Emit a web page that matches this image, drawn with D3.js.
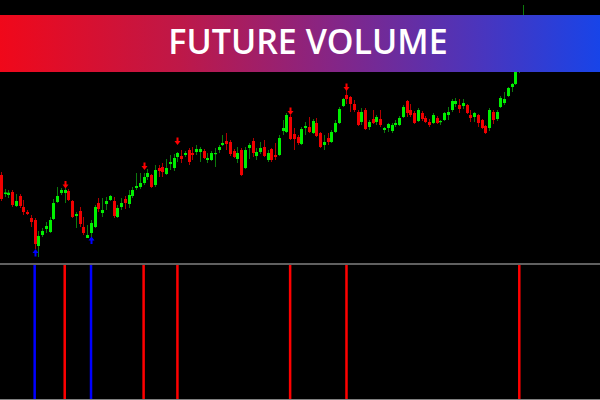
<!DOCTYPE html>
<html><head><meta charset="utf-8">
<script src="https://cdn.jsdelivr.net/npm/d3@7"></script>
<style>html,body{margin:0;padding:0;background:#000;overflow:hidden}svg{display:block}</style>
</head><body>
<script>
// Candle data (price points, index 0..139)
const openV  = [125,106,105,108,94,104,93,88,82,80,54,65,71,68,81,98,107,107,109,99,84,89,73,62,67,73,97,87,96,100,99,83,93,101,96,104,112,113,117,123,125,115,132,133,126,136,132,143,144,145,150,147,148,148,149,140,140,146,150,155,159,158,149,141,150,132,152,159,144,148,153,140,151,145,145,169,168,183,166,163,156,172,173,167,177,167,155,162,158,168,177,194,205,203,196,188,178,190,173,181,178,181,170,172,169,175,175,183,199,190,187,179,187,182,178,177,182,178,180,185,190,196,195,194,195,185,183,185,180,174,172,188,181,193,197,204,213,216,240,250];
const highV  = [128,111,110,110,106,106,100,90,85,82,69,72,78,83,101,113,112,112,111,100,88,93,83,75,80,95,102,102,103,105,103,95,102,104,110,113,127,127,127,131,126,135,135,137,141,145,146,148,150,149,152,153,155,153,151,147,149,152,155,165,167,160,151,153,152,153,157,162,152,158,160,150,152,157,165,180,187,185,172,165,173,178,183,181,182,168,165,167,170,180,193,202,210,204,200,190,192,192,180,190,185,190,173,177,177,180,184,195,200,196,189,192,189,184,181,187,184,180,188,193,201,202,201,201,196,190,188,186,181,175,192,190,190,204,208,213,217,242,265,295];
const lowV   = [99,103,102,93,93,92,85,85,73,51,43,63,67,67,80,97,105,97,99,82,72,73,65,62,63,72,88,83,90,99,82,82,90,91,92,102,110,111,115,120,112,113,123,123,125,130,129,138,137,143,135,140,145,138,141,137,139,133,147,154,150,144,142,137,124,131,141,143,140,146,143,138,138,140,144,165,167,160,150,155,155,165,167,166,163,152,150,155,157,167,176,193,196,188,188,174,175,170,170,176,175,173,167,168,167,173,174,182,183,183,176,178,179,177,173,176,176,175,179,180,188,193,187,191,186,178,178,173,171,166,169,176,179,192,195,203,208,215,227,248];
const closeV = [101,107.5,107.3,95,99,94,88,86,78,56,64,69,74,80,97,104,110,110,100,83,86,76,67,65,77,93,91,90,99,104,84,92,97,97,105,110,114,117,123,127,113,130,129,128,132,138,142,147,141,147,138,145,151,151,142,142,147,147,153,157,156,146,143,147,125,150,155,147,148,152,144,147,140,143,162,172,185,161,161,157,171,174,168,179,164,153,158,158,168,177,191,201,201,196,190,175,188,171,178,177,183,175,172,176,175,177,182,193,187,185,177,190,181,178,175,185,177,179,187,188,199,199,191,197,187,182,187,177,172,167,190,180,188,202,201,212,216,240,250,275];

// Signals
const signalIndex = [9, 17, 24, 38, 47, 77, 92, 138];
const signalType  = ["buy","sell","buy","sell","sell","sell","sell","sell"];
const signalPrice = [47.5, 115, 60, 133.5, 158.5, 188.5, 212.5, 272];
const signalVolume = [1, 1, 1, 1, 1, 1, 1, 1];

const titleText = "FUTURE VOLUME";

const W = 600, H = 400;
const svg = d3.select("body").append("svg").attr("width", W).attr("height", H);
svg.append("rect").attr("width", W).attr("height", H).attr("fill", "#000");

const n = openV.length;
const x = d3.scaleLinear().domain([0, n - 1]).range([0.8, 523]);
const y = d3.scaleLinear().domain([0, 300]).range([300, 0]);

const candles = d3.range(n).map(i => ({i, o: openV[i], h: highV[i], l: lowV[i], c: closeV[i]}));

const main = svg.append("g");
// wicks
main.selectAll("line.wick").data(candles).join("line")
  .attr("class", "wick")
  .attr("x1", d => Math.round(x(d.i)) + 0.5).attr("x2", d => Math.round(x(d.i)) + 0.5)
  .attr("y1", d => y(d.h)).attr("y2", d => y(d.l))
  .attr("stroke", d => d.c >= d.o ? "#0c7a0c" : "#b00000")
  .attr("stroke-width", 1);
// bodies
const bw = 3;
main.selectAll("rect.body").data(candles).join("rect")
  .attr("class", "body")
  .attr("x", d => Math.round(x(d.i)) + 0.5 - bw / 2)
  .attr("width", bw)
  .attr("y", d => y(Math.max(d.o, d.c)))
  .attr("height", d => Math.max(1.2, Math.abs(y(d.o) - y(d.c))))
  .attr("fill", d => d.c >= d.o ? "#00f000" : "#f00000");

// signal arrows
const sig = signalIndex.map((idx, k) => ({idx, type: signalType[k], p: signalPrice[k], v: signalVolume[k]}));
function arrowPath(cx, cy, up) {
  const s = up ? -1 : 1;
  return `M${cx - 1},${cy - s * 4} L${cx + 1},${cy - s * 4} L${cx + 1},${cy - s * 0.5} L${cx + 3},${cy - s * 0.5} L${cx},${cy + s * 3.5} L${cx - 3},${cy - s * 0.5} L${cx - 1},${cy - s * 0.5} Z`;
}
main.selectAll("path.arrow").data(sig).join("path")
  .attr("class", "arrow")
  .attr("d", d => arrowPath(Math.round(x(d.idx)) + 0.5, y(d.p), d.type === "buy"))
  .attr("fill", d => d.type === "buy" ? "#0000ff" : "#ff0000");

// lower panel
const yv = d3.scaleLinear().domain([0, 1]).range([399, 265]);
svg.append("line").attr("x1", 0).attr("x2", W).attr("y1", 264).attr("y2", 264)
  .attr("stroke", "#808080").attr("stroke-width", 1.6);
svg.append("line").attr("x1", 0).attr("x2", W).attr("y1", 399.5).attr("y2", 399.5)
  .attr("stroke", "#808080").attr("stroke-width", 1);
svg.append("g").selectAll("rect").data(sig).join("rect")
  .attr("x", d => x(d.idx) - 1.2)
  .attr("width", 2.5)
  .attr("y", d => yv(d.v))
  .attr("height", d => yv(0) - yv(d.v))
  .attr("fill", d => d.type === "buy" ? "#0000ff" : "#ff0000");

// banner
const defs = svg.append("defs");
const grad = defs.append("linearGradient").attr("id", "bg").attr("x1", "0").attr("x2", "1").attr("y1", "0").attr("y2", "0");
grad.append("stop").attr("offset", "0").attr("stop-color", "#f0081a");
grad.append("stop").attr("offset", "0.3").attr("stop-color", "#be1848");
grad.append("stop").attr("offset", "0.55").attr("stop-color", "#862585");
grad.append("stop").attr("offset", "0.8").attr("stop-color", "#4a35bd");
grad.append("stop").attr("offset", "1").attr("stop-color", "#1844e8");
svg.append("rect").attr("x", 0).attr("y", 15).attr("width", W).attr("height", 57).attr("fill", "url(#bg)");
svg.append("text").attr("x", 308).attr("y", 54)
  .attr("text-anchor", "middle")
  .attr("font-family", "'Open Sans', sans-serif")
  .attr("font-weight", 600)
  .attr("font-size", 34)
  .attr("fill", "#fff")
  .text(titleText);
</script>
</body></html>
